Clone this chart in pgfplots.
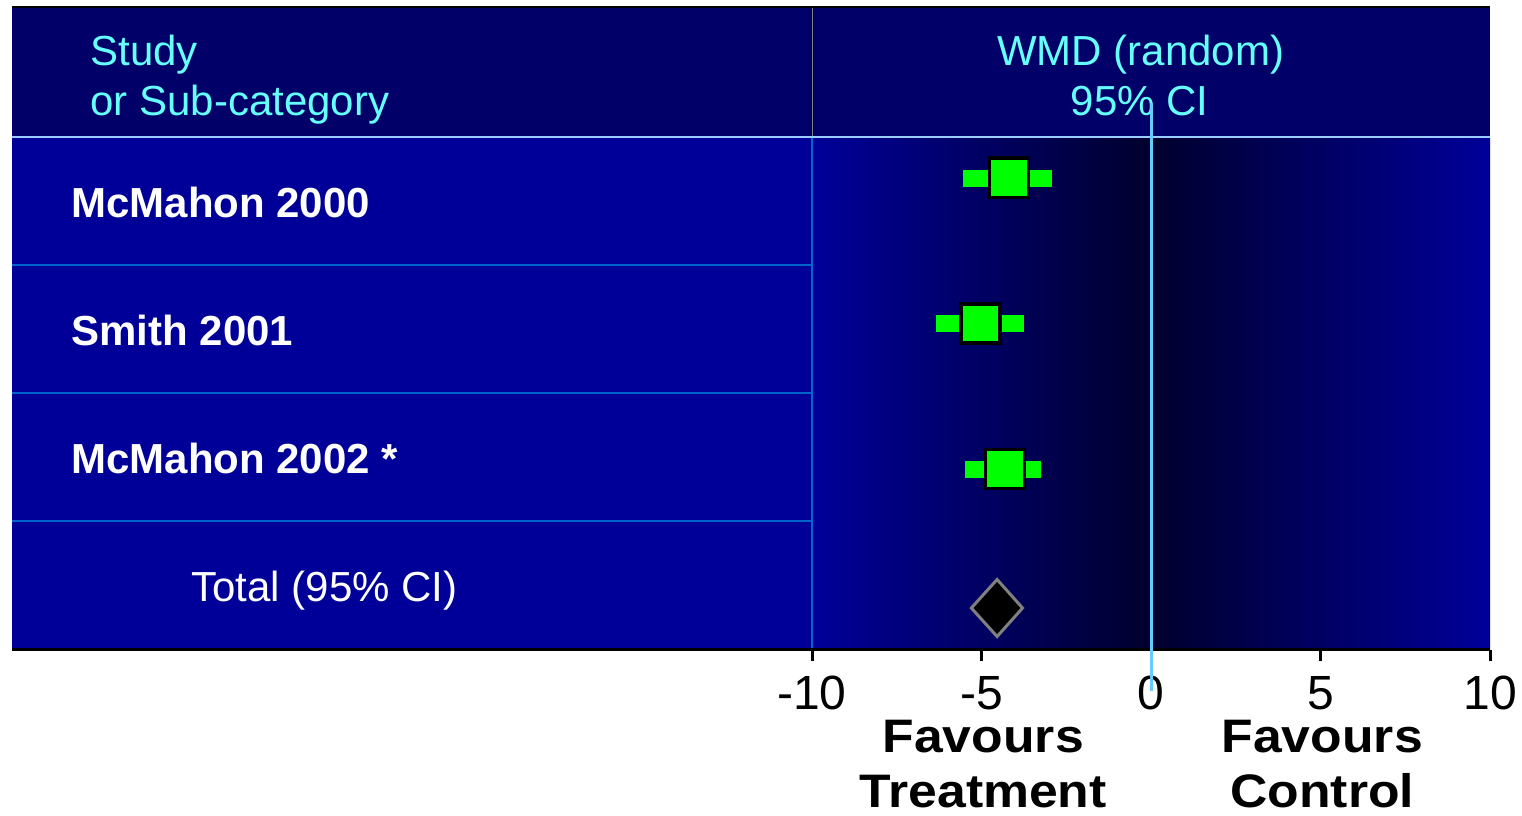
\documentclass[border=0pt]{standalone}
\usepackage{pgfplots}
\pgfplotsset{compat=1.18}
\usepackage{fontspec}
\setmainfont{Liberation Sans}
\definecolor{hdr}{RGB}{0,0,104}
\definecolor{bodyc}{RGB}{0,0,153}
\definecolor{darkc}{RGB}{0,0,45}
\definecolor{cyantext}{RGB}{102,255,255}
\definecolor{sepc}{RGB}{0,102,204}
\definecolor{hlinec}{RGB}{153,204,255}
\definecolor{zlinec}{RGB}{102,204,255}
\definecolor{grn}{RGB}{0,255,0}
\begin{document}
\begin{tikzpicture}
\begin{axis}[
  at={(0,0)}, anchor=south west,
  scale only axis, width=739pt, height=321pt,
  xmin=-33.599, xmax=10, ymin=8, ymax=650, y dir=reverse,
  axis line style={draw=none},
  xtick={-10,-5,0,5,10}, xticklabels={{-10},{-5},{0},{5},{10}},
  ytick=\empty,
  xtick pos=bottom, tick align=outside,
  major tick length=5.5pt,
  every tick/.style={black, line width=1.5pt},
  xticklabel style={font=\fontsize{24}{28}\selectfont, inner sep=0pt, text depth=0pt, yshift=-7.5pt},
  clip=false,
]
% backgrounds
\fill[hdr] (axis cs:-33.599,8) rectangle (axis cs:10,137);
\fill[bodyc] (axis cs:-33.599,137) rectangle (axis cs:-10,650);
\shade[left color=bodyc, right color=bodyc, middle color=darkc] (axis cs:-10,137) rectangle (axis cs:10,650);
% frame lines
\draw[black, line width=1pt] (axis cs:-33.599,7) -- (axis cs:10,7);
\draw[black, line width=1.5pt] (axis cs:-33.599,649) -- (axis cs:10,649);
\draw[hlinec, line width=1pt] (axis cs:-33.599,137) -- (axis cs:10,137);
\draw[gray, line width=0.5pt] (axis cs:-10,8) -- (axis cs:-10,136);
\draw[sepc, line width=1.1pt] (axis cs:-10,138) -- (axis cs:-10,648);
\draw[sepc, line width=1.1pt] (axis cs:-33.599,265) -- (axis cs:-10,265);
\draw[sepc, line width=1.1pt] (axis cs:-33.599,393) -- (axis cs:-10,393);
\draw[sepc, line width=1.1pt] (axis cs:-33.599,521) -- (axis cs:-10,521);
% header texts
\node[anchor=base west, inner sep=0, text=cyantext, font=\fontsize{21}{25}\selectfont] at (axis cs:-31.30,65) {Study};
\node[anchor=base west, inner sep=0, text=cyantext, font=\fontsize{21}{25}\selectfont] at (axis cs:-31.30,115) {or Sub-category};
\node[anchor=base, inner sep=0, text=cyantext, font=\fontsize{21}{25}\selectfont] at (axis cs:-0.30,65) {WMD (random)};
\node[anchor=base, inner sep=0, text=cyantext, font=\fontsize{21}{25}\selectfont] at (axis cs:-0.33,115) {95\% CI};
% row labels
\node[anchor=base west, inner sep=0, text=white, font=\fontsize{21}{25}\selectfont\bfseries] at (axis cs:-31.86,217) {McMahon 2000};
\node[anchor=base west, inner sep=0, text=white, font=\fontsize{21}{25}\selectfont\bfseries] at (axis cs:-31.86,345) {Smith 2001};
\node[anchor=base west, inner sep=0, text=white, font=\fontsize{21}{25}\selectfont\bfseries] at (axis cs:-31.86,473) {McMahon 2002 *};
\node[anchor=base west, inner sep=0, text=white, font=\fontsize{21}{25}\selectfont] at (axis cs:-28.32,601) {Total (95\% CI)};
% confidence intervals
\addplot[grn, line width=8.5pt, line cap=butt] coordinates {(-5.55,178) (-2.92,178)};
\addplot[grn, line width=8.5pt, line cap=butt] coordinates {(-6.34,323.5) (-3.75,323.5)};
\addplot[grn, line width=8.5pt, line cap=butt] coordinates {(-5.49,469) (-3.24,469)};
% point estimates
\addplot[only marks, mark=square*, mark size=9.8pt, mark options={fill=grn, draw=black, line width=1.8pt}]
  coordinates {(-4.19,177.7) (-5.03,323.5) (-4.31,469)};
% pooled estimate
\addplot[fill=black, draw=gray, line width=1.5pt] coordinates {(-5.30,608) (-4.54,579.5) (-3.79,608) (-4.54,636.5)} -- cycle;
% zero line
\draw[zlinec, line width=1.5pt] (axis cs:0,103) -- (axis cs:0,691);
% favours labels
\node[anchor=base, inner sep=0, text depth=0pt, font=\fontsize{23.5}{28}\selectfont\bfseries] at (axis cs:-4.95,752) {\scalebox{1.1}[1]{Favours}};
\node[anchor=base, inner sep=0, text depth=0pt, font=\fontsize{23.5}{28}\selectfont\bfseries] at (axis cs:-4.95,807) {\scalebox{1.1}[1]{Treatment}};
\node[anchor=base, inner sep=0, text depth=0pt, font=\fontsize{23.5}{28}\selectfont\bfseries] at (axis cs:5.05,752) {\scalebox{1.1}[1]{Favours}};
\node[anchor=base, inner sep=0, text depth=0pt, font=\fontsize{23.5}{28}\selectfont\bfseries] at (axis cs:5.05,807) {\scalebox{1.1}[1]{Control}};
\end{axis}
\pgfresetboundingbox
\useasboundingbox (-6pt,-82.5pt) rectangle (755pt,325pt);
\end{tikzpicture}
\end{document}
